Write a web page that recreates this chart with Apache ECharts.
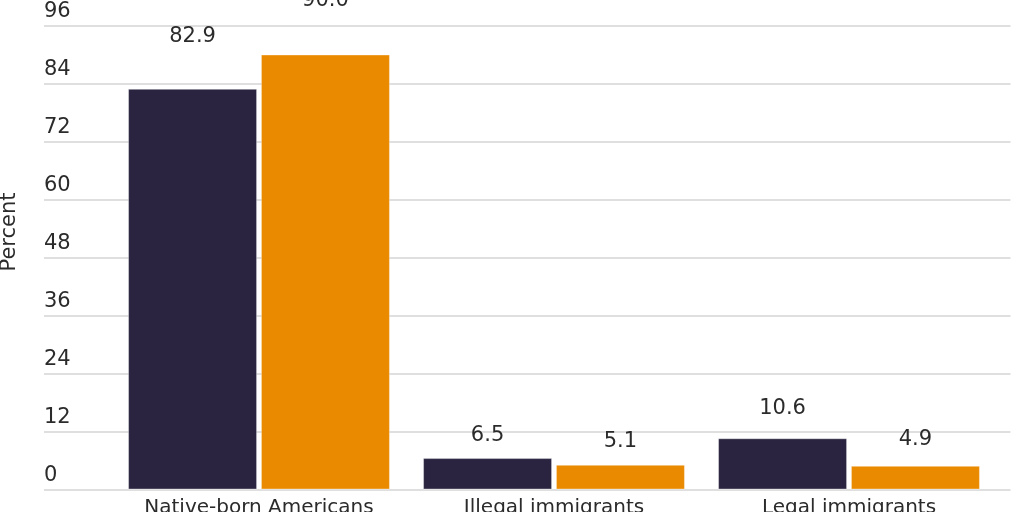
<!DOCTYPE html>
<html>
<head>
<meta charset="utf-8">
<script src="https://cdn.jsdelivr.net/npm/echarts@6/dist/echarts.min.js"></script>
<style>
html,body{margin:0;padding:0;background:#fff;}
#c{width:1024px;height:512px;}
</style>
</head>
<body>
<div id="c"></div>
<script>
const categories = ['Native-born Americans', 'Illegal immigrants', 'Legal immigrants'];
const seriesA = [82.9, 6.5, 10.6];
const seriesB = [90.0, 5.1, 4.9];
const yTicks = [0, 12, 24, 36, 48, 60, 72, 84, 96];

const labelGapA = [42, 12, 19];
const labelGapB = [43, 13, 16];

const FONT = 'DejaVu Sans';
const TXT = '#2b2b2b';

function withGaps(vals, gaps) {
  return vals.map((v, i) => ({ value: v, label: { distance: gaps[i] } }));
}

const chart = echarts.init(document.getElementById('c'), null, { renderer: 'canvas' });
chart.setOption({
  animation: false,
  grid: [
    { left: 44, right: 13.5, top: 25.5, bottom: 22.5, containLabel: false, outerBoundsMode: 'none' },
    { left: 111.5, width: 885, top: 25.5, bottom: 22.5, containLabel: false, outerBoundsMode: 'none' }
  ],
  graphic: [{
    type: 'text', x: 10, y: 232, rotation: Math.PI / 2,
    style: { text: 'Percent', font: '21px "' + FONT + '"', fill: TXT, align: 'center', verticalAlign: 'middle' }
  }],
  xAxis: [
    { type: 'category', gridIndex: 0, data: categories, show: false },
    {
      type: 'category', gridIndex: 1, data: categories,
      axisLine: { show: false }, axisTick: { show: false },
      axisLabel: { fontFamily: FONT, fontSize: 20, color: TXT, margin: 8, interval: 0 }
    }
  ],
  yAxis: [
    {
      type: 'value', gridIndex: 0, min: yTicks[0], max: yTicks[yTicks.length - 1], interval: 12,
      axisLine: { show: false }, axisTick: { show: false },
      splitLine: { lineStyle: { color: '#d4d4d4', width: 1.6 } },
      axisLabel: {
        inside: true, margin: 0, fontFamily: FONT, fontSize: 21, color: TXT,
        verticalAlign: 'bottom', padding: [0, 0, 3, 0]
      }
    },
    {
      type: 'value', gridIndex: 1, min: yTicks[0], max: yTicks[yTicks.length - 1], interval: 12,
      show: false, splitLine: { show: false }
    }
  ],
  series: [
    {
      type: 'bar', xAxisIndex: 1, yAxisIndex: 1, data: withGaps(seriesA, labelGapA),
      barWidth: 129, barGap: '3%',
      itemStyle: { color: '#2a2440', borderColor: 'rgba(255,255,255,0.35)', borderWidth: 1 },
      label: { show: true, position: 'top', fontFamily: FONT, fontSize: 21, color: TXT, formatter: p => p.value.toFixed(1) }
    },
    {
      type: 'bar', xAxisIndex: 1, yAxisIndex: 1, data: withGaps(seriesB, labelGapB),
      barWidth: 129, barGap: '3%',
      itemStyle: { color: '#ea8a00', borderColor: 'rgba(255,255,255,0.35)', borderWidth: 1 },
      label: { show: true, position: 'top', fontFamily: FONT, fontSize: 21, color: TXT, formatter: p => p.value.toFixed(1) }
    }
  ]
});
</script>
</body>
</html>
